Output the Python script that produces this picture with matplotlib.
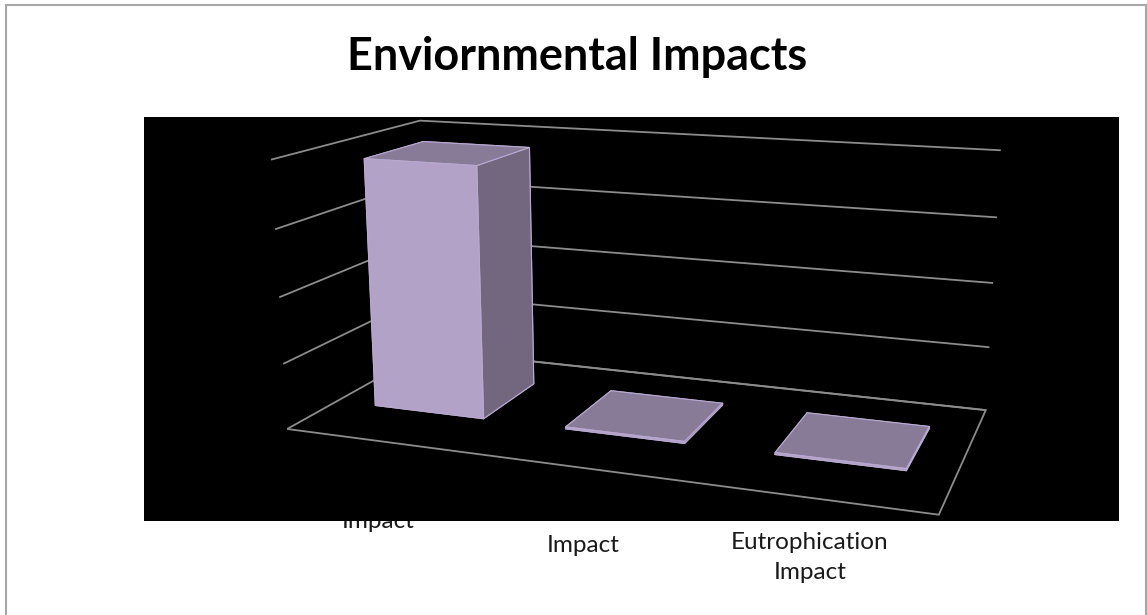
import matplotlib.pyplot as plt
from matplotlib.patches import Rectangle

# chart data
categories = ["Impact", "Impact", "Eutrophication\nImpact"]
values = [3.84, 0.03, 0.03]
value_ticks = [0, 1, 2, 3, 4]

plt.rcParams["font.family"] = ["Lato", "DejaVu Sans"]
plt.rcParams["grid.color"] = "#8c8c8c"
plt.rcParams["grid.linewidth"] = 1.3

W, H = 1147, 615
fig = plt.figure(figsize=(W / 100, H / 100), dpi=100)

# chart border and black plot area
fig.add_artist(Rectangle((6 / W, -0.01), 1140 / W, 1.01 - 5 / H, transform=fig.transFigure,
                         fill=False, edgecolor="#a6a6a6", linewidth=1.5, zorder=-2))
fig.add_artist(Rectangle((144 / W, 1 - 521 / H), 975 / W, 404 / H, transform=fig.transFigure,
                         facecolor="black", edgecolor="none", zorder=-0.5))

fig.text(577 / W, 1 - 70 / H, "Enviornmental Impacts", ha="center", va="baseline",
         fontsize=32.4, fontweight="bold", color="black")

# category labels (partly hidden under the plot area)
label_pos = [(378, 511), (583, 535), (810, 532)]
for name, (lx, ly) in zip(categories, label_pos):
    fig.text(lx / W, 1 - ly / H, name, ha="center", va="top", fontsize=17.5,
             color="#1a1a1a", linespacing=1.55, zorder=-1)

ax = fig.add_axes([0.2137, -0.1185, 0.6755, 1.2598], projection="3d")
ax.set_facecolor("none")
ax.set_proj_type("persp", focal_length=0.36)
ax.view_init(elev=14, azim=-70)
ax.set_box_aspect((2.387, 1.10, 1), zoom=0.96)
ax.set_xlim(-0.5, 2.5, view_margin=0)
ax.set_ylim(0, 1, view_margin=0)
ax.set_zlim(0, 4, view_margin=0)

ax.set_xticks([])
ax.set_yticks([])
ax.set_zticks(value_ticks)
ax.set_zticklabels([])
ax.tick_params(axis="z", colors=(0, 0, 0, 0))
for axis in (ax.xaxis, ax.yaxis, ax.zaxis):
    axis.line.set_visible(False)
    axis.set_pane_color((0, 0, 0, 0))

# floor outline
floor = ax.zaxis.pane
floor.set_alpha(None)
floor.set_facecolor((0, 0, 0, 0))
floor.set_edgecolor("#8c8c8c")
floor.set_linewidth(1.3)

# faces: bottom, top, front, back, left, right
faces = ["#877b97", "#877b97", "#b3a2c7", "#b3a2c7", "#72677f", "#72677f"]
bar_w, bar_d = 0.58, 0.42
xs = [i - bar_w / 2 for i in range(len(values))]
ax.bar3d(xs, [0.32] * len(values), [0] * len(values), bar_w, bar_d, values,
         color=faces * len(values), edgecolor="#b9a8d0", linewidth=0.8, shade=False)

fig.savefig("out.png", dpi=100)
